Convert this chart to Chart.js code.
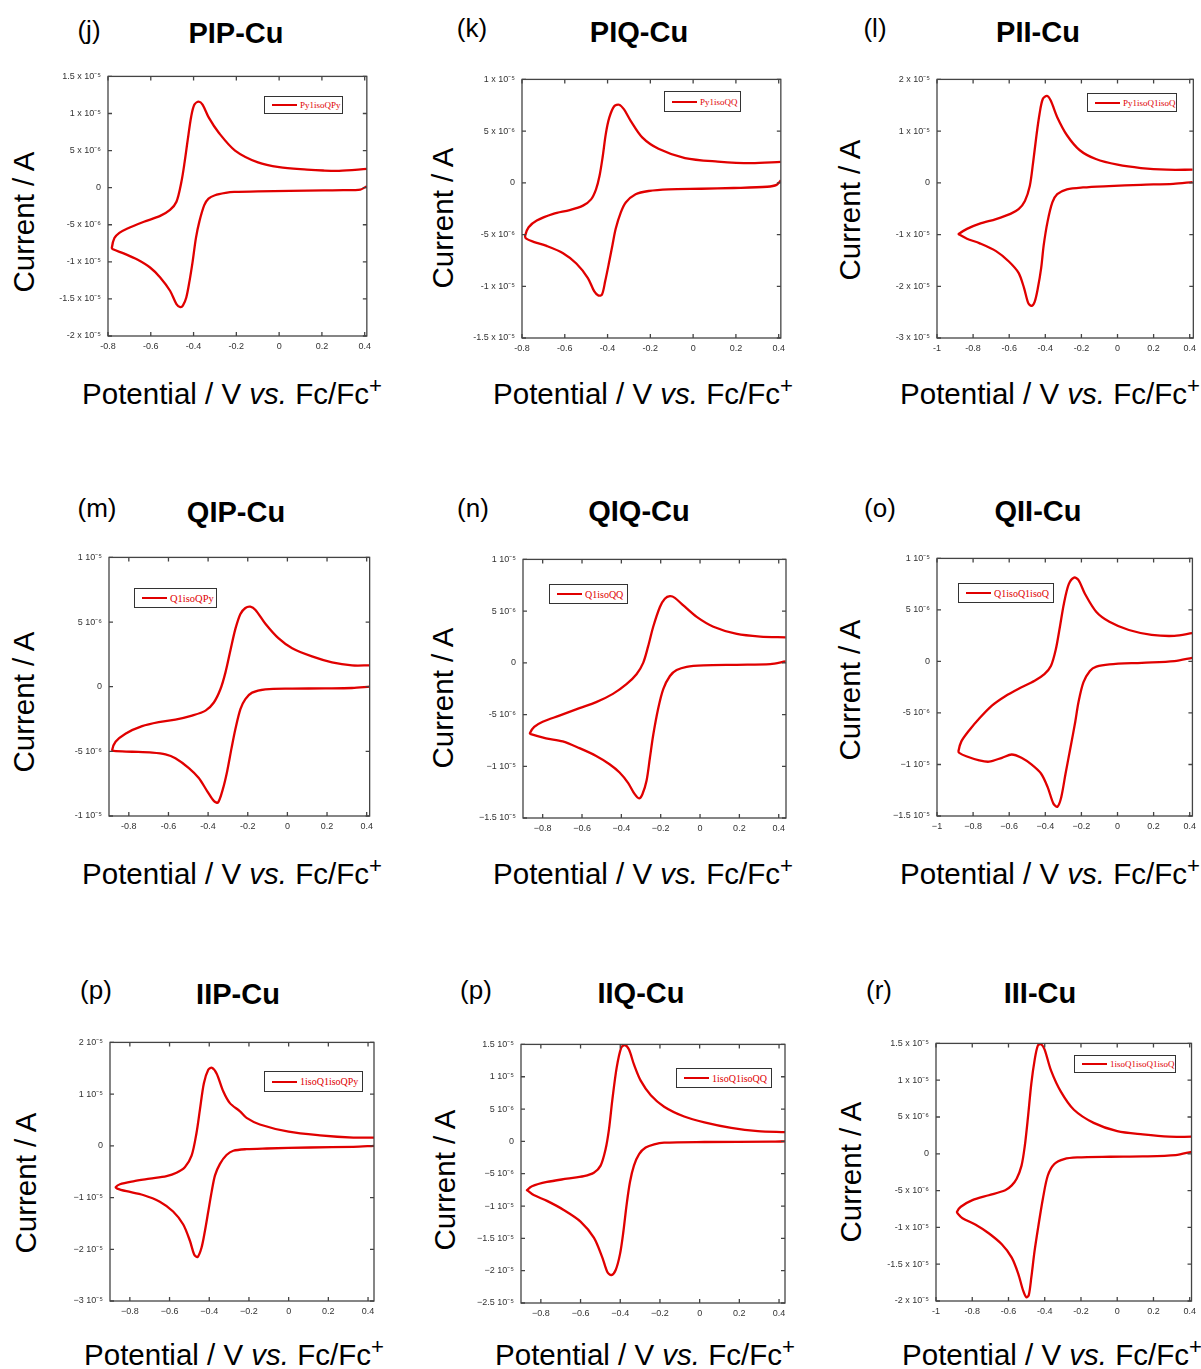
<!DOCTYPE html>
<html lang="en">
<head>
  <meta charset="UTF-8" />
  <title>Cyclic voltammograms of the Cu complexes</title>
  <script src="https://cdn.jsdelivr.net/npm/chart.js"></script>
  <style>
    body { margin: 0; width: 1201px; height: 1369px; background: #fff; overflow: hidden; position: relative;
           font-family: "Liberation Sans", Arial, sans-serif; color: #000; }
    .txt { position: absolute; transform: translate(-50%, -50%); white-space: nowrap; line-height: 1; }
    .lab { font-size: 26px; }
    .ttl { font-size: 29px; font-weight: bold; }
    .ytl { font-size: 29.5px; transform: translate(-50%, -50%) rotate(-90deg); }
    .xtl { font-size: 29.5px; }
    .xtl sup { font-size: 0.75em; line-height: 0; vertical-align: 0.5em; }
    canvas { position: absolute; }
    .leg { position: absolute; box-sizing: border-box; border: 1px solid #333; background: #fff;
           font-family: "Liberation Serif", "Times New Roman", serif; color: #e00000;
           display: flex; align-items: center; white-space: nowrap; }
    .leg i { display: inline-block; width: 25px; height: 2px; background: #e00000; margin: 0 3px 0 7px; }
  </style>
</head>
<body>
<script>
  // potentials in V vs Fc/Fc+, currents in uA (1e-6 A); each loop: cathodic sweep then return sweep

  // (j) PIP-Cu
  const potPIP = [0.41, 0.38, 0.3, 0.21, 0.05, -0.10, -0.21, -0.25, -0.30, -0.33, -0.35, -0.373, -0.389, -0.404, -0.419, -0.434, -0.45, -0.462, -0.48, -0.51, -0.556, -0.602, -0.663, -0.724, -0.777, -0.782, -0.77, -0.747, -0.709, -0.632, -0.556, -0.51, -0.48, -0.457, -0.442, -0.427, -0.411, -0.396, -0.376, -0.358, -0.328, -0.282, -0.206, -0.099, 0, 0.13, 0.206, 0.28, 0.41];
  const curPIP = [0.2, -0.25, -0.34, -0.36, -0.44, -0.49, -0.58, -0.71, -1.02, -1.47, -2.36, -4.58, -6.8, -9.9, -12.6, -14.8, -15.9, -16.1, -15.7, -13.9, -12.1, -10.8, -9.7, -8.9, -8.3, -8.1, -6.8, -6.1, -5.5, -4.6, -3.8, -3.0, -1.9, 0.76, 3.4, 6.5, 9.6, 11.2, 11.6, 11.2, 9.4, 7.4, 5.0, 3.4, 2.76, 2.44, 2.31, 2.27, 2.53];

  // (k) PIQ-Cu
  const potPIQ = [0.41, 0.39, 0.346, 0.19, 0.038, -0.115, -0.208, -0.269, -0.315, -0.338, -0.362, -0.377, -0.395, -0.411, -0.426, -0.442, -0.462, -0.492, -0.546, -0.608, -0.685, -0.746, -0.78, -0.785, -0.769, -0.731, -0.654, -0.577, -0.515, -0.477, -0.454, -0.438, -0.423, -0.408, -0.392, -0.369, -0.346, -0.323, -0.292, -0.238, -0.162, -0.038, 0.115, 0.27, 0.41];
  const curPIQ = [0.25, -0.2, -0.38, -0.5, -0.57, -0.63, -0.79, -1.1, -1.9, -2.86, -4.44, -6.0, -7.9, -9.5, -10.8, -10.9, -10.5, -9.2, -7.8, -6.8, -6.1, -5.7, -5.4, -5.1, -4.3, -3.65, -3.0, -2.63, -2.2, -1.6, -0.63, 0.63, 2.5, 4.76, 6.3, 7.4, 7.55, 7.1, 6.0, 4.4, 3.3, 2.4, 2.06, 1.9, 2.03];

  // (l) PII-Cu
  const potPII = [0.416, 0.309, 0.13, -0.048, -0.191, -0.28, -0.334, -0.361, -0.388, -0.409, -0.423, -0.441, -0.459, -0.477, -0.495, -0.518, -0.548, -0.602, -0.673, -0.763, -0.834, -0.877, -0.88, -0.834, -0.763, -0.673, -0.593, -0.548, -0.513, -0.486, -0.468, -0.45, -0.432, -0.414, -0.391, -0.37, -0.334, -0.28, -0.209, -0.12, 0, 0.13, 0.273, 0.416];
  const curPII = [0.13, -0.19, -0.38, -0.63, -0.89, -1.27, -2.2, -3.8, -7.6, -12.1, -16.5, -20.3, -23.0, -23.8, -23.2, -20.3, -17.4, -15.2, -13.2, -11.7, -10.8, -10.0, -9.9, -8.9, -7.9, -7.0, -6.0, -5.1, -3.5, -0.63, 3.8, 8.9, 13.3, 16.2, 16.8, 15.9, 12.7, 9.2, 6.3, 4.6, 3.5, 2.86, 2.54, 2.54];

  // (m) QIP-Cu
  const potQIP = [0.415, 0.326, 0.19, 0.024, -0.111, -0.178, -0.212, -0.237, -0.262, -0.282, -0.304, -0.326, -0.35, -0.371, -0.405, -0.447, -0.497, -0.565, -0.615, -0.682, -0.783, -0.876, -0.884, -0.867, -0.817, -0.733, -0.649, -0.565, -0.481, -0.413, -0.371, -0.338, -0.313, -0.287, -0.262, -0.237, -0.212, -0.187, -0.161, -0.111, -0.044, 0.024, 0.124, 0.225, 0.326, 0.415];
  const curQIP = [0, -0.1, -0.13, -0.15, -0.2, -0.46, -0.96, -1.73, -3.25, -4.77, -6.55, -7.94, -8.96, -8.83, -8.07, -7.06, -6.29, -5.53, -5.23, -5.1, -5.03, -4.97, -4.9, -4.26, -3.63, -3.05, -2.74, -2.54, -2.23, -1.85, -1.22, -0.2, 1.07, 2.84, 4.49, 5.63, 6.09, 6.19, 5.94, 4.87, 3.73, 2.97, 2.34, 1.88, 1.65, 1.65];

  // (n) QIQ-Cu
  const potQIQ = [0.435, 0.357, 0.187, 0.017, -0.068, -0.119, -0.153, -0.187, -0.213, -0.238, -0.255, -0.272, -0.293, -0.31, -0.332, -0.366, -0.409, -0.46, -0.528, -0.613, -0.698, -0.783, -0.86, -0.865, -0.843, -0.8, -0.715, -0.613, -0.528, -0.443, -0.374, -0.323, -0.289, -0.264, -0.238, -0.204, -0.179, -0.153, -0.128, -0.085, -0.017, 0.068, 0.187, 0.306, 0.435];
  const curQIQ = [0.13, -0.13, -0.19, -0.25, -0.38, -0.7, -1.27, -2.54, -4.44, -6.98, -9.2, -11.4, -12.7, -13.1, -12.7, -11.6, -10.6, -9.8, -9.0, -8.25, -7.6, -7.3, -6.9, -6.8, -6.2, -5.7, -5.1, -4.38, -3.8, -3.0, -2.06, -1.1, 0, 1.59, 3.49, 5.4, 6.2, 6.44, 6.28, 5.55, 4.44, 3.49, 2.79, 2.54, 2.47];

  // (o) QII-Cu
  const potQII = [0.414, 0.315, 0.135, -0.045, -0.117, -0.153, -0.189, -0.216, -0.234, -0.261, -0.288, -0.312, -0.333, -0.355, -0.387, -0.423, -0.477, -0.532, -0.586, -0.64, -0.712, -0.766, -0.838, -0.877, -0.881, -0.865, -0.82, -0.766, -0.694, -0.622, -0.55, -0.459, -0.405, -0.369, -0.342, -0.319, -0.297, -0.27, -0.24, -0.216, -0.18, -0.117, -0.045, 0.063, 0.189, 0.315, 0.414];
  const curQII = [0.35, 0.03, -0.13, -0.29, -0.51, -0.92, -2.04, -3.94, -5.85, -8.4, -10.9, -13.2, -14.1, -13.8, -12.2, -10.9, -10.0, -9.35, -9.03, -9.35, -9.73, -9.6, -9.2, -8.87, -8.7, -7.76, -6.65, -5.53, -4.26, -3.37, -2.67, -1.88, -1.24, -0.45, 1.15, 3.37, 5.6, 7.5, 8.14, 7.89, 6.55, 4.8, 3.85, 3.05, 2.58, 2.48, 2.74];

  // (p) IIP-Cu
  const potIIP = [0.43, 0.326, 0.108, -0.111, -0.212, -0.279, -0.313, -0.346, -0.371, -0.388, -0.405, -0.422, -0.439, -0.459, -0.476, -0.497, -0.531, -0.582, -0.649, -0.733, -0.817, -0.864, -0.871, -0.85, -0.783, -0.699, -0.615, -0.565, -0.523, -0.489, -0.464, -0.447, -0.427, -0.405, -0.387, -0.363, -0.329, -0.296, -0.245, -0.212, -0.145, 0, 0.158, 0.326, 0.43];
  const curIIP = [0, -0.19, -0.32, -0.51, -0.64, -0.95, -1.78, -3.49, -5.72, -8.9, -12.7, -16.5, -19.7, -21.5, -21.0, -18.4, -15.2, -12.7, -10.8, -9.5, -8.77, -8.26, -8.0, -7.43, -6.86, -6.35, -5.85, -5.2, -4.13, -1.91, 2.54, 6.99, 12.1, 14.7, 15.1, 14.0, 10.5, 8.26, 6.67, 5.4, 4.13, 2.73, 2.03, 1.59, 1.59];

  // (p) IIQ-Cu
  const potIIQ = [0.43, 0.361, 0.024, -0.179, -0.229, -0.272, -0.305, -0.331, -0.351, -0.368, -0.384, -0.401, -0.423, -0.445, -0.465, -0.491, -0.533, -0.6, -0.685, -0.769, -0.836, -0.867, -0.87, -0.845, -0.769, -0.668, -0.583, -0.533, -0.499, -0.474, -0.457, -0.44, -0.418, -0.395, -0.376, -0.356, -0.331, -0.297, -0.246, -0.179, -0.078, 0.024, 0.159, 0.293, 0.43];
  const curIIQ = [0, -0.05, -0.1, -0.2, -0.46, -0.96, -1.97, -3.75, -6.28, -9.82, -13.9, -17.4, -19.9, -20.7, -20.2, -17.9, -14.9, -12.4, -10.6, -9.2, -8.3, -7.6, -7.55, -6.94, -6.28, -5.77, -5.37, -4.86, -3.75, -1.22, 1.82, 6.38, 11.4, 14.5, 14.9, 14.2, 11.9, 9.4, 7.14, 5.37, 3.85, 2.94, 2.08, 1.57, 1.42];

  // (r) III-Cu
  const potIII = [0.41, 0.322, 0.141, -0.04, -0.221, -0.293, -0.347, -0.383, -0.41, -0.434, -0.456, -0.474, -0.488, -0.501, -0.519, -0.546, -0.582, -0.637, -0.709, -0.781, -0.854, -0.881, -0.884, -0.863, -0.799, -0.709, -0.618, -0.582, -0.555, -0.528, -0.51, -0.492, -0.474, -0.456, -0.438, -0.42, -0.401, -0.365, -0.311, -0.239, -0.13, 0, 0.141, 0.286, 0.41];
  const curIII = [0.27, -0.18, -0.36, -0.4, -0.49, -0.71, -1.38, -2.95, -6.07, -9.64, -13.2, -16.8, -19.2, -19.5, -18.6, -16.3, -14.1, -12.3, -10.8, -9.64, -8.75, -8.08, -7.86, -7.19, -6.29, -5.63, -4.96, -4.29, -3.39, -1.61, 1.07, 5.09, 9.55, 12.7, 14.7, 14.9, 14.2, 11.3, 8.44, 5.98, 4.2, 3.08, 2.63, 2.32, 2.32];

  // tick values and labels
  const xTicks08 = [-0.8, -0.6, -0.4, -0.2, 0, 0.2, 0.4];
  const xLabels08 = ['-0.8', '-0.6', '-0.4', '-0.2', '0', '0.2', '0.4'];
  const xLabels08m = ['\u22120.8', '\u22120.6', '\u22120.4', '\u22120.2', '0', '0.2', '0.4'];
  const xTicks1 = [-1, -0.8, -0.6, -0.4, -0.2, 0, 0.2, 0.4];
  const xLabels1 = ['-1', '-0.8', '-0.6', '-0.4', '-0.2', '0', '0.2', '0.4'];
  const xLabels1m = ['\u22121', '\u22120.8', '\u22120.6', '\u22120.4', '\u22120.2', '0', '0.2', '0.4'];

  const yTicks20to15 = [-20, -15, -10, -5, 0, 5, 10, 15];
  const yLabelsPIP = ['-2 x 10⁻⁵', '-1.5 x 10⁻⁵', '-1 x 10⁻⁵', '-5 x 10⁻⁶', '0', '5 x 10⁻⁶', '1 x 10⁻⁵', '1.5 x 10⁻⁵'];
  const yTicks15to10 = [-15, -10, -5, 0, 5, 10];
  const yLabelsPIQ = ['-1.5 x 10⁻⁵', '-1 x 10⁻⁵', '-5 x 10⁻⁶', '0', '5 x 10⁻⁶', '1 x 10⁻⁵'];
  const yTicks30to20 = [-30, -20, -10, 0, 10, 20];
  const yLabelsPII = ['-3 x 10⁻⁵', '-2 x 10⁻⁵', '-1 x 10⁻⁵', '0', '1 x 10⁻⁵', '2 x 10⁻⁵'];
  const yTicks10to10 = [-10, -5, 0, 5, 10];
  const yLabelsQIP = ['-1 10⁻⁵', '-5 10⁻⁶', '0', '5 10⁻⁶', '1 10⁻⁵'];
  const yLabelsQIQ = ['\u22121.5 10⁻⁵', '\u22121 10⁻⁵', '-5 10⁻⁶', '0', '5 10⁻⁶', '1 10⁻⁵'];
  const yLabelsQII = ['\u22121.5 10⁻⁵', '\u22121 10⁻⁵', '-5 10⁻⁶', '0', '5 10⁻⁶', '1 10⁻⁵'];
  const yLabelsIIP = ['\u22123 10⁻⁵', '\u22122 10⁻⁵', '\u22121 10⁻⁵', '0', '1 10⁻⁵', '2 10⁻⁵'];
  const yTicks25to15 = [-25, -20, -15, -10, -5, 0, 5, 10, 15];
  const yLabelsIIQ = ['\u22122.5 10⁻⁵', '\u22122 10⁻⁵', '\u22121.5 10⁻⁵', '\u22121 10⁻⁵', '\u22125 10⁻⁶', '0', '5 10⁻⁶', '1 10⁻⁵', '1.5 10⁻⁵'];
  const yLabelsIII = ['-2 x 10⁻⁵', '-1.5 x 10⁻⁵', '-1 x 10⁻⁵', '-5 x 10⁻⁶', '0', '5 x 10⁻⁶', '1 x 10⁻⁵', '1.5 x 10⁻⁵'];

  const panels = [
    { tag: '(j)', title: 'PIP-Cu', legend: 'Py1isoQPy', pot: potPIP, cur: curPIP,
      xT: xTicks08, xL: xLabels08, yT: yTicks20to15, yL: yLabelsPIP, xr: [-0.8, 0.41], yr: [-20, 15],
      box: [108, 72, 370, 336], tagAt: [89, 30], titleAt: [236, 33], yAt: [24, 222], xAt: [232, 394],
      leg: [264, 96, 343, 114], legFs: 9 },
    { tag: '(k)', title: 'PIQ-Cu', legend: 'Py1isoQQ', pot: potPIQ, cur: curPIQ,
      xT: xTicks08, xL: xLabels08, yT: yTicks15to10, yL: yLabelsPIQ, xr: [-0.8, 0.41], yr: [-15, 10],
      box: [522, 75, 784, 338], tagAt: [472, 28], titleAt: [639, 32], yAt: [443, 218], xAt: [643, 394],
      leg: [664, 91, 741, 112], legFs: 9 },
    { tag: '(l)', title: 'PII-Cu', legend: 'Py1isoQ1isoQ', pot: potPII, cur: curPII,
      xT: xTicks1, xL: xLabels1, yT: yTicks30to20, yL: yLabelsPII, xr: [-1, 0.42], yr: [-30, 20],
      box: [937, 75, 1199, 338], tagAt: [875, 28], titleAt: [1038, 32], yAt: [850, 210], xAt: [1050, 394],
      leg: [1087, 93, 1177, 112], legFs: 9 },
    { tag: '(m)', title: 'QIP-Cu', legend: 'Q1isoQPy', pot: potQIP, cur: curQIP,
      xT: xTicks08, xL: xLabels08, yT: yTicks10to10, yL: yLabelsQIP, xr: [-0.9, 0.415], yr: [-10, 10],
      box: [109, 553, 372, 816], tagAt: [97, 508], titleAt: [236, 512], yAt: [24, 702], xAt: [232, 874],
      leg: [134, 588, 217, 608], legFs: 10.5 },
    { tag: '(n)', title: 'QIQ-Cu', legend: 'Q1isoQQ', pot: potQIQ, cur: curQIQ,
      xT: xTicks08, xL: xLabels08m, yT: yTicks15to10, yL: yLabelsQIQ, xr: [-0.9, 0.437], yr: [-15, 10],
      box: [523, 555, 786, 818], tagAt: [473, 508], titleAt: [639, 511], yAt: [443, 698], xAt: [643, 874],
      leg: [549, 584, 628, 604], legFs: 10 },
    { tag: '(o)', title: 'QII-Cu', legend: 'Q1isoQ1isoQ', pot: potQII, cur: curQII,
      xT: xTicks1, xL: xLabels1m, yT: yTicks15to10, yL: yLabelsQII, xr: [-1, 0.415], yr: [-15, 10],
      box: [937, 554, 1198, 816], tagAt: [880, 508], titleAt: [1038, 511], yAt: [850, 690], xAt: [1050, 874],
      leg: [958, 583, 1054, 603], legFs: 10 },
    { tag: '(p)', title: 'IIP-Cu', legend: '1isoQ1isoQPy', pot: potIIP, cur: curIIP,
      xT: xTicks08, xL: xLabels08m, yT: yTicks30to20, yL: yLabelsIIP, xr: [-0.9, 0.43], yr: [-30, 20],
      box: [110, 1038, 374, 1301], tagAt: [96, 990], titleAt: [238, 994], yAt: [26, 1183], xAt: [234, 1355],
      leg: [264, 1071, 363, 1092], legFs: 10 },
    { tag: '(p)', title: 'IIQ-Cu', legend: '1isoQ1isoQQ', pot: potIIQ, cur: curIIQ,
      xT: xTicks08, xL: xLabels08m, yT: yTicks25to15, yL: yLabelsIIQ, xr: [-0.9, 0.43], yr: [-25, 15],
      box: [521, 1040, 785, 1303], tagAt: [476, 990], titleAt: [641, 993], yAt: [445, 1180], xAt: [645, 1355],
      leg: [676, 1068, 772, 1088], legFs: 10 },
    { tag: '(r)', title: 'III-Cu', legend: '1isoQ1isoQ1isoQ', pot: potIII, cur: curIII,
      xT: xTicks1, xL: xLabels1, yT: yTicks20to15, yL: yLabelsIII, xr: [-1, 0.41], yr: [-20, 15],
      box: [936, 1039, 1196, 1301], tagAt: [879, 990], titleAt: [1040, 993], yAt: [851, 1172], xAt: [1052, 1355],
      leg: [1074, 1055, 1176, 1073], legFs: 9 }
  ];

  // box frame with inward ticks on all four sides
  const framePlugin = {
    id: 'frame',
    afterDraw(chart) {
      const { ctx, chartArea: a, scales: { x, y } } = chart;
      ctx.save();
      ctx.strokeStyle = '#444';
      ctx.lineWidth = 1.3;
      ctx.strokeRect(a.left, a.top, a.right - a.left, a.bottom - a.top);
      ctx.beginPath();
      x.ticks.forEach(t => {
        const px = x.getPixelForValue(t.value);
        ctx.moveTo(px, a.bottom); ctx.lineTo(px, a.bottom - 4);
        ctx.moveTo(px, a.top); ctx.lineTo(px, a.top + 4);
      });
      y.ticks.forEach(t => {
        const py = y.getPixelForValue(t.value);
        ctx.moveTo(a.left, py); ctx.lineTo(a.left + 4, py);
        ctx.moveTo(a.right, py); ctx.lineTo(a.right - 4, py);
      });
      ctx.stroke();
      ctx.restore();
    }
  };

  function addText(cls, html, at) {
    const d = document.createElement('div');
    d.className = 'txt ' + cls;
    d.innerHTML = html;
    d.style.left = at[0] + 'px';
    d.style.top = at[1] + 'px';
    document.body.appendChild(d);
  }

  const L = 70, T = 8, B = 24;

  panels.forEach(p => {
    addText('lab', p.tag, p.tagAt);
    addText('ttl', p.title, p.titleAt);
    addText('ytl', 'Current / A', p.yAt);
    addText('xtl', 'Potential / V <i>vs.</i> Fc/Fc<sup>+</sup>', p.xAt);

    const [l, t, r, b] = p.box;
    const R = Math.max(1, Math.min(6, 1201 - r));
    const canvas = document.createElement('canvas');
    canvas.width = r - l + L + R;
    canvas.height = b - t + T + B;
    canvas.style.left = (l - L) + 'px';
    canvas.style.top = (t - T) + 'px';
    document.body.appendChild(canvas);

    new Chart(canvas.getContext('2d'), {
      type: 'scatter',
      data: {
        datasets: [{
          data: p.pot.map((v, i) => ({ x: v, y: p.cur[i] })),
          showLine: true,
          borderColor: '#e00000',
          borderWidth: 2.3,
          pointRadius: 0,
          tension: 0.3,
          fill: false
        }]
      },
      options: {
        responsive: false,
        animation: false,
        events: [],
        layout: { padding: { top: T, right: R, left: 0, bottom: 0 } },
        plugins: { legend: { display: false }, tooltip: { enabled: false } },
        scales: {
          x: {
            type: 'linear', min: p.xr[0], max: p.xr[1],
            grid: { display: false, drawTicks: false }, border: { display: false },
            afterBuildTicks: s => { s.ticks = p.xT.map(v => ({ value: v })); },
            afterFit: s => { s.height = B; },
            ticks: { autoSkip: false, maxRotation: 0, minRotation: 0, padding: 5, color: '#333',
                     font: { family: 'Liberation Sans', size: 9 },
                     callback: (v, i) => p.xL[i] }
          },
          y: {
            type: 'linear', min: p.yr[0], max: p.yr[1],
            grid: { display: false, drawTicks: false }, border: { display: false },
            afterBuildTicks: s => { s.ticks = p.yT.map(v => ({ value: v })); },
            afterFit: s => { s.width = L; },
            ticks: { autoSkip: false, padding: 7, color: '#333',
                     font: { family: 'Liberation Sans', size: 9 },
                     callback: (v, i) => p.yL[i] }
          }
        }
      },
      plugins: [framePlugin]
    });

    const lg = document.createElement('div');
    lg.className = 'leg';
    lg.style.left = p.leg[0] + 'px';
    lg.style.top = p.leg[1] + 'px';
    lg.style.width = (p.leg[2] - p.leg[0]) + 'px';
    lg.style.height = (p.leg[3] - p.leg[1]) + 'px';
    lg.style.fontSize = p.legFs + 'px';
    lg.innerHTML = '<i></i>' + p.legend;
    document.body.appendChild(lg);
  });
</script>
</body>
</html>
